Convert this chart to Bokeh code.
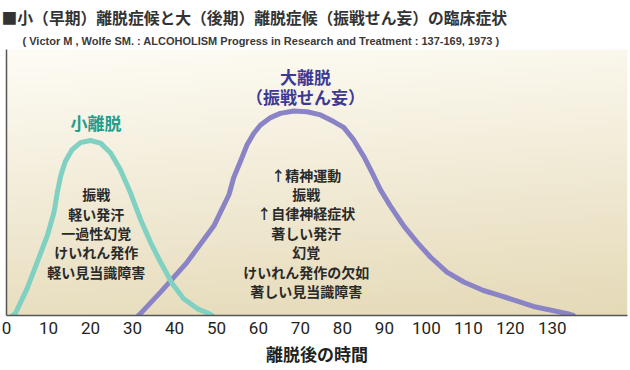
import numpy as np
from bokeh.plotting import figure
from bokeh.models import Range1d, FixedTicker, Title
from bokeh.core.properties import value
from bokeh.embed import file_html
from bokeh.resources import INLINE

# ---- data (hours after withdrawal, relative intensity) ----
small_x = [1.4, 2.1, 4.9, 7.3, 9.7, 11.3, 12.1, 12.9, 14.0, 15.6, 17.6, 20.0, 22.4,
           24.8, 27.1, 29.5, 31.9, 34.3, 36.7, 39.5, 42.2, 45.4, 48.2, 49.0]
small_y = [0, 0.7, 10.1, 20.0, 29.9, 38.7, 46.2, 52.4, 57.9, 62.3, 65.0, 65.8, 64.8,
           61.1, 54.9, 46.2, 36.2, 27.5, 20.0, 11.9, 6.3, 2.6, 0.7, 0]

big_x = [31.4, 31.9, 36.7, 43.0, 49.4, 53.0, 54.1, 55.7, 57.3, 58.9, 60.5, 62.9, 65.2,
         68.4, 71.6, 74.8, 77.9, 80.3, 82.7, 85.1, 87.1, 89.0, 91.4, 94.6, 97.8,
         101.0, 104.9, 108.9, 113.6, 117.6, 125.5, 133.6, 135.0]
big_y = [0, 0.7, 8.8, 20.0, 33.7, 45.5, 51.8, 57.9, 64.2, 68.5, 71.6, 74.4, 76.0,
         76.9, 76.6, 75.4, 72.9, 70.7, 66.0, 59.8, 53.6, 47.4, 41.2, 33.7, 27.5,
         21.9, 16.3, 12.6, 9.4, 7.5, 3.4, 0.7, 0]

tick_values = [0, 10, 20, 30, 40, 50, 60, 70, 80, 90, 100, 110, 120, 130]

title_text = "■小（早期）離脱症候と大（後期）離脱症候（振戦せん妄）の臨床症状"
subtitle_text = "( Victor M , Wolfe SM. : ALCOHOLISM Progress in Research and Treatment : 137-169, 1973 )"
xlabel_text = "離脱後の時間"

small_name = ["小離脱"]
big_name = ["大離脱", "（振戦せん妄）"]
small_symptoms = ["振戦", "軽い発汗", "一過性幻覚", "けいれん発作", "軽い見当識障害"]
big_symptoms = ["↑精神運動", "振戦", "↑自律神経症状", "著しい発汗", "幻覚",
                "けいれん発作の欠如", "著しい見当識障害"]

# ---- figure ----
X_END = 147.9
p = figure(width=628, height=368, output_backend="svg", toolbar_location=None,
           x_range=Range1d(0, X_END), y_range=Range1d(0, 100),
           min_border_left=6, min_border_right=1, min_border_top=49,
           min_border_bottom=51, title=None)
p.outline_line_color = None
p.border_fill_color = "white"
p.xgrid.visible = False
p.ygrid.visible = False

# titles
sub = Title(text=subtitle_text, text_font="Liberation Sans",
            text_font_size="11px", text_font_style="bold", text_color="#3a3a3a",
            offset=16, standoff=6)
p.add_layout(sub, "above")
main = Title(text=title_text, text_font="Noto Sans CJK JP",
             text_font_size="15.8px", text_font_style="bold", text_color="#333333",
             offset=-5, standoff=2)
p.add_layout(main, "above")

# background gradient (style only)
ny, nx = 60, 120
yy, xx = np.mgrid[0:ny, 0:nx]
t = 0.85 * (1 - yy / (ny - 1)) + 0.15 * (xx / (nx - 1))
top = np.array([254, 252, 245])
bot = np.array([229, 218, 184])
img = np.empty((ny, nx), dtype=np.uint32)
view = img.view(dtype=np.uint8).reshape((ny, nx, 4))
for k in range(3):
    view[:, :, k] = (top[k] + (bot[k] - top[k]) * t).astype(np.uint8)
view[:, :, 3] = 255
p.image_rgba(image=[img], x=0, y=0, dw=X_END, dh=100)

# curves
p.line(big_x, big_y, line_color="#8a84c6", line_width=5, line_join="round", line_cap="round")
p.line(small_x, small_y, line_color="#80d1c2", line_width=5, line_join="round", line_cap="round")

# curve names
p.text(x=[21.3], y=[72.5], text=small_name, text_font=value("Noto Sans CJK JP"),
       text_font_style="bold", text_font_size="17px", text_color="#1f9f8b",
       text_align="center", text_baseline="middle")
p.text(x=[71.2, 71.2], y=[89.7, 82.3], text=big_name, text_font=value("Noto Sans CJK JP"),
       text_font_style="bold", text_font_size="17px", text_color="#3d3a94",
       text_align="center", text_baseline="middle")

# symptom lists
sy0, sstep = 45.5, 7.25
p.text(x=[21.4] * len(small_symptoms),
       y=[sy0 - i * sstep for i in range(len(small_symptoms))],
       text=small_symptoms, text_font=value("Noto Sans CJK JP"),
       text_font_style="bold", text_font_size="14px", text_color="#2a2a2a",
       text_align="center", text_baseline="middle")
by0, bstep = 53.0, 7.3
p.text(x=[71.4] * len(big_symptoms),
       y=[by0 - i * bstep for i in range(len(big_symptoms))],
       text=big_symptoms, text_font=value("Noto Sans CJK JP"),
       text_font_style="bold", text_font_size="14px", text_color="#2a2a2a",
       text_align="center", text_baseline="middle")

# axes
xa = p.xaxis[0]
xa.ticker = FixedTicker(ticks=tick_values)
xa.major_tick_line_color = None
xa.minor_tick_line_color = None
xa.axis_line_color = "#555555"
xa.axis_line_width = 1.5
xa.major_label_text_font = "Roboto"
xa.major_label_text_font_size = "17px"
xa.major_label_text_color = "#231f20"
xa.major_label_standoff = 0
xa.axis_label = xlabel_text
xa.axis_label_text_font = "Noto Sans CJK JP"
xa.axis_label_text_font_style = "bold"
xa.axis_label_text_font_size = "17px"
xa.axis_label_text_color = "#231f20"
xa.axis_label_standoff = 4

ya = p.yaxis[0]
ya.ticker = FixedTicker(ticks=[])
ya.major_tick_line_color = None
ya.minor_tick_line_color = None
ya.axis_line_color = "#555555"
ya.axis_line_width = 1.5

open("out.html", "w").write(file_html(p, INLINE))
